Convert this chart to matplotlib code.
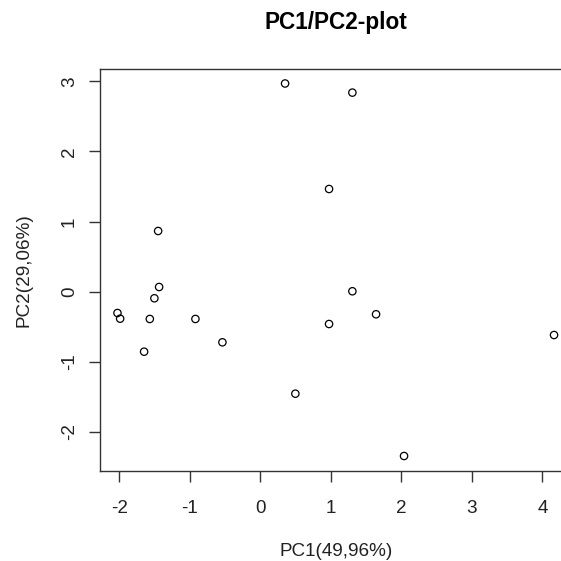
import matplotlib
matplotlib.use("Agg")
import matplotlib.pyplot as plt

plt.rcParams['font.family'] = ['Liberation Sans', 'DejaVu Sans']
plt.rcParams['axes.unicode_minus'] = False

pc1 = [0.35, 1.305, 0.974, -1.451, -1.437, -1.504, -2.028, -1.990, -1.569,
       -0.922, -0.539, -1.650, 1.305, 1.641, 0.974, 0.496, 4.166, 2.038]
pc2 = [2.97, 2.84, 1.465, 0.866, 0.067, -0.094, -0.304, -0.385, -0.389,
       -0.389, -0.722, -0.856, 0.006, -0.322, -0.461, -1.455, -0.618, -2.344]
xticks = [-2, -1, 0, 1, 2, 3, 4]
yticks = [-2, -1, 0, 1, 2, 3]
title = "PC1/PC2-plot"
xlabel = "PC1(49,96%)"
ylabel = "PC2(29,06%)"

W = H = 561
fig = plt.figure(figsize=(W / 100, H / 100), dpi=100)

def px_rect(left, top, right, bottom):
    return [left / W, 1 - bottom / H, (right - left) / W, (bottom - top) / H]

ax = fig.add_axes(px_rect(100, 68.6, 571.5, 470.9))

ax.scatter(pc1, pc2, s=28, facecolors='none', edgecolors='black', linewidths=0.9)

xr = max(pc1) - min(pc1)
yr = max(pc2) - min(pc2)
ax.set_xlim(min(pc1) - 0.04 * xr, max(pc1) + 0.04 * xr)
ax.set_ylim(min(pc2) - 0.04 * yr, max(pc2) + 0.04 * yr)

ax.set_xticks(xticks)
ax.set_yticks(yticks)
ax.set_xticklabels([str(t) for t in xticks])
ax.set_yticklabels([str(t) for t in yticks], rotation=90, va='center')

for s in ax.spines.values():
    s.set_color('#333333')
    s.set_linewidth(1.0)

ax.tick_params(axis='both', direction='out', length=8, width=1.0, color='#333333',
               labelsize=13.6, labelcolor='#222222')
ax.tick_params(axis='x', pad=13)
ax.tick_params(axis='y', pad=8)

fig.text(335.8 / W, 1 - 23 / H, title, ha='center', va='center',
         fontsize=16.3, fontweight='bold', color='black')
fig.text(335.8 / W, 1 - 551.7 / H, xlabel, ha='center', va='center',
         fontsize=13.6, color='#222222')
fig.text(24 / W, 1 - 269.8 / H, ylabel, ha='center', va='center',
         rotation=90, fontsize=13.6, color='#222222')

fig.savefig("out.png", dpi=100, facecolor='white')
